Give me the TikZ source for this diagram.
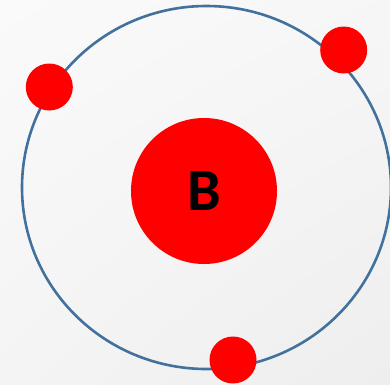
\documentclass[tikz,border=0pt]{standalone}
\usepackage{fontspec}
\setmainfont{Carlito}
\usetikzlibrary{shadings}
\definecolor{orbitblue}{RGB}{65,113,156}
\definecolor{bgtop}{RGB}{250,250,250}
\definecolor{bgbot}{RGB}{238,238,238}
\tikzset{
  electron/.style={circle, fill=red, draw=none, minimum size=47pt, inner sep=0pt},
  nucleus/.style={circle, fill=red, draw=none, minimum size=146pt, inner sep=0pt, font=\fontsize{60}{60}\selectfont\bfseries},
  orbit/.style={draw=orbitblue, line width=2.6pt}
}
\begin{document}
\begin{tikzpicture}[x=1pt,y=-1pt]
\shade[upper left=bgtop, upper right=bgtop!70!bgbot, lower left=bgtop!50!bgbot, lower right=bgbot] (0,0) rectangle (390,384);
\useasboundingbox (0,0) rectangle (390,384);
\draw[orbit] (206.5,187.5) ellipse [x radius=184.5, y radius=181.5];
\node[nucleus] (n) at (204,191) {B};
\node[electron] (e1) at (49.3,87) {};
\node[electron] (e2) at (343.7,50) {};
\node[electron] (e3) at (233,360) {};
\end{tikzpicture}
\end{document}
